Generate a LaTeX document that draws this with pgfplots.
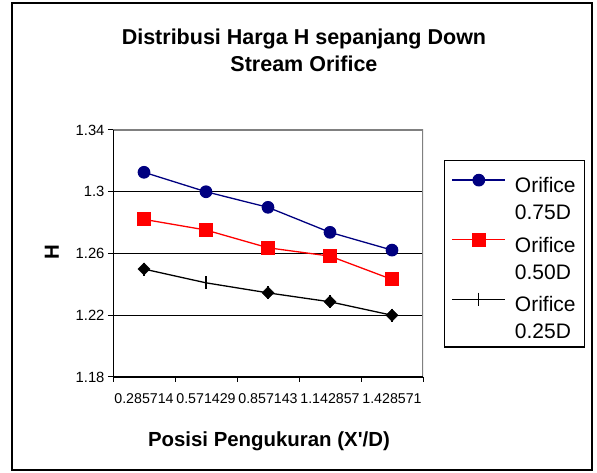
\documentclass[border=0pt]{standalone}
\usepackage{pgfplots}
\pgfplotsset{compat=1.18}
\usepackage{fontspec}
\setmainfont{Liberation Sans}
\definecolor{navyblue}{HTML}{000080}
\begin{document}
\begin{tikzpicture}[x=1pt,y=1pt]
\useasboundingbox (0,0) rectangle (597,473);
\draw[line width=1.5pt] (12,3) rectangle (592,470);
\begin{axis}[
  at={(113pt,96pt)}, anchor=south west,
  scale only axis, width=310pt, height=247pt,
  xmin=0.5, xmax=5.5, ymin=1.18, ymax=1.34,
  xtick={1,2,3,4,5},
  xticklabels={0.285714,0.571429,0.857143,1.142857,1.428571},
  minor xtick={0.5,1.5,2.5,3.5,4.5,5.5},
  ytick={1.18,1.22,1.26,1.3,1.34},
  yticklabels={1.18,1.22,1.26,1.3,1.34},
  xtick pos=bottom, ytick pos=left,
  tick align=outside,
  major tick length=5pt, minor tick length=5pt,
  major x tick style={draw=none},
  tick style={black, line width=1pt},
  ymajorgrids, grid style={black, line width=1.2pt},
  axis line style={draw=none},
  tick label style={font=\fontsize{14.2}{17}\selectfont},
  yticklabel style={font=\fontsize{14.8}{17}\selectfont},
  xticklabel style={yshift=-8pt},
  title={Distribusi Harga H sepanjang Down\\Stream Orifice},
  title style={font=\bfseries\fontsize{21.5}{27}\selectfont, align=center,
    at={(axis description cs:0.616,1.30)}, anchor=center},
  xlabel={Posisi Pengukuran (X\textquotesingle/D)},
  xlabel style={font=\bfseries\fontsize{20.4}{24}\selectfont,
    at={(axis description cs:0.503,-0.259)}, anchor=center},
  ylabel={H},
  ylabel style={font=\bfseries\fontsize{20.4}{24}\selectfont,
    at={(axis description cs:-0.197,0.506)}, anchor=center, rotate=0},
  legend style={at={(axis description cs:1.068,0.879)}, anchor=north west,
    draw=black, line width=1.2pt, font=\fontsize{21}{27}\selectfont,
    cells={align=left}, inner xsep=7pt, inner ysep=5pt,
    row sep=2pt, column sep=7pt},
  legend cell align=left,
  legend image code/.code={
    \draw[#1, mark=none, line width=1.3pt] (0pt,19pt) -- (53pt,19pt);
    \draw[#1, only marks] plot coordinates {(26.5pt,19pt)};
    \path (0pt,33pt);
  },
]
\addplot[navyblue, line width=1.3pt, mark=*, mark size=5.7pt, mark options={fill=navyblue}]
  coordinates {(1,1.3126) (2,1.3000) (3,1.2899) (4,1.2737) (5,1.2622)};
\addlegendentry{Orifice\\0.75D}
\addplot[red, line width=1.3pt, mark=square*, mark size=6.3pt, mark options={fill=red}]
  coordinates {(1,1.2821) (2,1.2752) (3,1.2637) (4,1.2583) (5,1.2432)};
\addlegendentry{Orifice\\0.50D}
\addplot[black, line width=1.3pt, mark=|, mark size=6.5pt]
  coordinates {(1,1.2499) (2,1.2410) (3,1.2345) (4,1.2287) (5,1.2200)};
\addlegendentry{Orifice\\0.25D}
\addplot[black, only marks, mark=square*, mark size=4.3pt, mark options={rotate=45, fill=black}, forget plot]
  coordinates {(1,1.2499) (3,1.2345) (4,1.2287) (5,1.2200)};
\draw[gray, line width=1.5pt] (rel axis cs:0,1) -- (rel axis cs:1,1) -- (rel axis cs:1,0);
\draw[black, line width=1.8pt] (rel axis cs:0,1) -- (rel axis cs:0,0) -- (rel axis cs:1,0);
\end{axis}
\end{tikzpicture}
\end{document}
